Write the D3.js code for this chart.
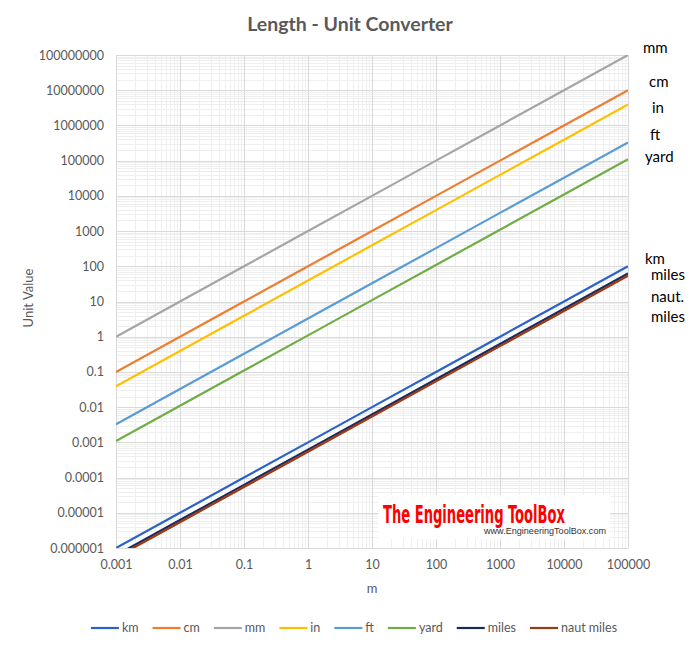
<!DOCTYPE html>
<html>
<head>
<meta charset="utf-8">
<script src="https://cdn.jsdelivr.net/npm/d3@7"></script>
<style>
  body { margin: 0; background: #fff; }
  svg { font-family: Lato, "Open Sans", sans-serif; }
</style>
</head>
<body>
<svg width="700" height="652"></svg>
<script>
// data: meters and equivalent values
const meters = [0.001, 0.01, 0.1, 1, 10, 100, 1000, 10000, 100000];
const kmValues = [0.000001, 0.00001, 0.0001, 0.001, 0.01, 0.1, 1, 10, 100];
const cmValues = [0.1, 1, 10, 100, 1000, 10000, 100000, 1000000, 10000000];
const mmValues = [1, 10, 100, 1000, 10000, 100000, 1000000, 10000000, 100000000];
const inValues = [0.03937, 0.3937, 3.937, 39.37, 393.7, 3937, 39370, 393700, 3937000];
const ftValues = [0.003281, 0.03281, 0.3281, 3.281, 32.81, 328.1, 3281, 32808, 328084];
const yardValues = [0.001094, 0.01094, 0.1094, 1.094, 10.94, 109.4, 1094, 10936, 109361];
const milesValues = [0.000000621, 0.00000621, 0.0000621, 0.000621, 0.00621, 0.0621, 0.621, 6.214, 62.14];
const nautValues = [0.00000054, 0.0000054, 0.000054, 0.00054, 0.0054, 0.054, 0.54, 5.4, 54];

const seriesNames = ['km', 'cm', 'mm', 'in', 'ft', 'yard', 'miles', 'naut miles'];
const seriesValues = [kmValues, cmValues, mmValues, inValues, ftValues, yardValues, milesValues, nautValues];
const seriesColors = ['#2A62C6', '#ED7D31', '#A5A5A5', '#FFC000', '#5B9BD5', '#70AD47', '#1A2A5C', '#9E3A14'];

const xTicks = [0.001, 0.01, 0.1, 1, 10, 100, 1000, 10000, 100000];
const xTickLabels = ['0.001', '0.01', '0.1', '1', '10', '100', '1000', '10000', '100000'];
const yTicks = [1e-6, 1e-5, 1e-4, 1e-3, 1e-2, 1e-1, 1, 10, 100, 1e3, 1e4, 1e5, 1e6, 1e7, 1e8];
const yTickLabels = ['0.000001', '0.00001', '0.0001', '0.001', '0.01', '0.1', '1', '10', '100',
  '1000', '10000', '100000', '1000000', '10000000', '100000000'];

// unit names written at the right end of the lines
const sideLabels = [
  { text: 'mm', x: 643, y: 53 },
  { text: 'cm', x: 649, y: 87 },
  { text: 'in', x: 652, y: 113 },
  { text: 'ft', x: 650, y: 140 },
  { text: 'yard', x: 645, y: 162 },
  { text: 'km', x: 645, y: 264 },
  { text: 'miles', x: 651, y: 280 },
  { text: 'naut.', x: 651, y: 302 },
  { text: 'miles', x: 651, y: 322 }
];

const svg = d3.select('svg');
const margin = { top: 55, right: 72, bottom: 104, left: 116 };
const width = 700, height = 652;
const innerWidth = width - margin.left - margin.right;
const innerHeight = height - margin.top - margin.bottom;

const xScale = d3.scaleLog().domain([0.001, 100000]).range([0, innerWidth]);
const yScale = d3.scaleLog().domain([1e-6, 1e8]).range([innerHeight, 0]);

// title
svg.append('text')
  .attr('x', 350).attr('y', 31)
  .attr('text-anchor', 'middle')
  .attr('font-size', 19.5).attr('font-weight', 'bold')
  .attr('fill', '#595959')
  .text('Length - Unit Converter');

const g = svg.append('g')
  .attr('transform', `translate(${margin.left},${margin.top})`);

g.append('clipPath').attr('id', 'plot-clip')
  .append('rect').attr('width', innerWidth).attr('height', innerHeight);

// minor grid
const minorX = [];
const minorY = [];
for (let e = -3; e < 5; e++) for (let k = 2; k < 10; k++) minorX.push(k * Math.pow(10, e));
for (let e = -6; e < 8; e++) for (let k = 2; k < 10; k++) minorY.push(k * Math.pow(10, e));

g.selectAll('line.minor-x').data(minorX).join('line')
  .attr('class', 'minor-x')
  .attr('x1', d => Math.round(xScale(d)) + 0.5).attr('x2', d => Math.round(xScale(d)) + 0.5)
  .attr('y1', 0).attr('y2', innerHeight)
  .attr('stroke', '#efefef');
g.selectAll('line.minor-y').data(minorY).join('line')
  .attr('class', 'minor-y')
  .attr('y1', d => Math.round(yScale(d)) + 0.5).attr('y2', d => Math.round(yScale(d)) + 0.5)
  .attr('x1', 0).attr('x2', innerWidth)
  .attr('stroke', '#efefef');

// major grid
g.selectAll('line.major-x').data(xTicks).join('line')
  .attr('class', 'major-x')
  .attr('x1', d => Math.round(xScale(d)) + 0.5).attr('x2', d => Math.round(xScale(d)) + 0.5)
  .attr('y1', 0).attr('y2', innerHeight)
  .attr('stroke', '#d9d9d9');
g.selectAll('line.major-y').data(yTicks).join('line')
  .attr('class', 'major-y')
  .attr('y1', d => Math.round(yScale(d)) + 0.5).attr('y2', d => Math.round(yScale(d)) + 0.5)
  .attr('x1', 0).attr('x2', innerWidth)
  .attr('stroke', '#d9d9d9');

// axes (labels only, no ticks)
const xAxis = d3.axisBottom(xScale).tickValues(xTicks)
  .tickFormat((d, i) => xTickLabels[i]).tickSize(0).tickPadding(12);
const yAxis = d3.axisLeft(yScale).tickValues(yTicks)
  .tickFormat((d, i) => yTickLabels[i]).tickSize(0).tickPadding(12);

const xAxisG = g.append('g').attr('transform', `translate(0,${innerHeight})`).call(xAxis);
const yAxisG = g.append('g').call(yAxis);
[xAxisG, yAxisG].forEach(a => {
  a.select('.domain').attr('stroke', '#d9d9d9');
  a.selectAll('text').attr('font-size', 12.5).attr('fill', '#595959')
    .attr('font-family', 'Lato, sans-serif');
});

g.append('text')
  .attr('x', innerWidth / 2).attr('y', innerHeight + 45)
  .attr('text-anchor', 'middle')
  .attr('font-size', 13).attr('fill', '#595959')
  .text('m');

g.append('text')
  .attr('transform', 'rotate(-90)')
  .attr('x', -(298 - margin.top)).attr('y', 29 - margin.left + 4)
  .attr('text-anchor', 'middle')
  .attr('font-size', 13).attr('fill', '#595959')
  .text('Unit Value');

// watermark
const wm = g.append('g').attr('transform', `translate(${378 - margin.left},${495 - margin.top})`);
wm.append('rect').attr('width', 232).attr('height', 44).attr('fill', '#fff').attr('opacity', 0.95);
wm.append('text')
  .attr('x', 5).attr('y', 28)
  .attr('font-family', '"Liberation Sans Narrow", "DejaVu Sans Condensed", sans-serif')
  .attr('font-weight', 'bold').attr('font-size', 24)
  .attr('textLength', 182).attr('lengthAdjust', 'spacingAndGlyphs')
  .attr('fill', '#ff0000')
  .text('The Engineering ToolBox');
wm.append('text')
  .attr('x', 106).attr('y', 39)
  .attr('font-family', '"Liberation Sans", sans-serif')
  .attr('font-size', 8.5)
  .attr('textLength', 122).attr('lengthAdjust', 'spacingAndGlyphs')
  .attr('fill', '#333')
  .text('www.EngineeringToolBox.com');

// lines
const series = seriesNames.map((name, i) => ({
  name,
  color: seriesColors[i],
  points: meters.map((m, j) => ({ x: m, y: seriesValues[i][j] }))
}));

const line = d3.line().x(d => xScale(d.x)).y(d => yScale(d.y));

g.append('g').attr('clip-path', 'url(#plot-clip)')
  .selectAll('path').data(series).join('path')
  .attr('d', d => line(d.points))
  .attr('fill', 'none')
  .attr('stroke', d => d.color)
  .attr('stroke-width', 2.2);

// side labels
svg.selectAll('text.side').data(sideLabels).join('text')
  .attr('class', 'side')
  .attr('x', d => d.x).attr('y', d => d.y)
  .attr('font-size', 15).attr('fill', '#000')
  .text(d => d.text);

// legend
const legend = svg.append('g').attr('transform', 'translate(0,628)');
const items = legend.selectAll('g').data(series).join('g');
items.append('line')
  .attr('x1', 0).attr('x2', 28).attr('y1', 0).attr('y2', 0)
  .attr('stroke', d => d.color).attr('stroke-width', 2.2);
items.append('text')
  .attr('x', 31).attr('dy', '0.35em')
  .attr('font-size', 12.5).attr('fill', '#595959')
  .text(d => d.name);
const widths = [];
items.each(function () {
  widths.push(31 + this.querySelector('text').getComputedTextLength());
});
const gap = 14;
const total = d3.sum(widths) + gap * (widths.length - 1);
let offset = 350 - total / 2 + 4;
items.attr('transform', (d, i) => {
  const t = `translate(${offset},0)`;
  offset += widths[i] + gap;
  return t;
});
</script>
</body>
</html>
